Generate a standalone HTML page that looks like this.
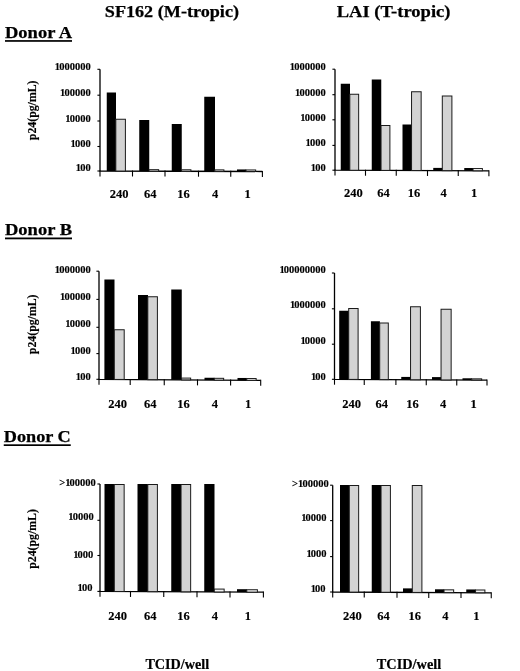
<!DOCTYPE html>
<html><head><meta charset="utf-8"><title>Figure</title>
<style>
html,body{margin:0;padding:0;background:#fff;}
svg{display:block;}
text{font-family:"Liberation Serif","Times New Roman",serif;font-weight:bold;fill:#000;}
.t{font-size:17.6px;stroke:#000;stroke-width:0.25px;}
.d{font-size:17.2px;stroke:#000;stroke-width:0.25px;}
.yl{font-size:10.5px;stroke:#000;stroke-width:0.15px;}
.xl{font-size:12.5px;stroke:#000;stroke-width:0.15px;}
.yt{font-size:11.8px;stroke:#000;stroke-width:0.15px;}
.tc{font-size:14.3px;stroke:#000;stroke-width:0.2px;}
</style></head>
<body>
<svg width="520" height="671" viewBox="0 0 520 671">
<rect width="520" height="671" fill="#fff"/>
<path d="M100 69.3V171L262.4 171.5" fill="none" stroke="#000" stroke-width="1.3" stroke-linejoin="miter"/>
<path d="M97.4 69.3H100" stroke="#000" stroke-width="1.1"/>
<path d="M97.4 95.2H100" stroke="#000" stroke-width="1.1"/>
<path d="M97.4 121H100" stroke="#000" stroke-width="1.1"/>
<path d="M97.4 146.5H100" stroke="#000" stroke-width="1.1"/>
<path d="M97.4 171H100" stroke="#000" stroke-width="1.1"/>
<path d="M100.00 170.40V176.40" stroke="#000" stroke-width="1.1"/>
<path d="M132.50 170.50V176.50" stroke="#000" stroke-width="1.1"/>
<path d="M165.00 170.60V176.60" stroke="#000" stroke-width="1.1"/>
<path d="M198.50 170.70V176.70" stroke="#000" stroke-width="1.1"/>
<path d="M230.75 170.80V176.80" stroke="#000" stroke-width="1.1"/>
<path d="M262.40 170.90V176.90" stroke="#000" stroke-width="1.1"/>
<rect x="106.75" y="92.50" width="9.25" height="78.54" fill="#000"/>
<rect x="115.80" y="119.25" width="9.60" height="51.81" fill="#d3d3d3" stroke="#1a1a1a" stroke-width="1"/>
<rect x="139.25" y="120.00" width="10.00" height="51.14" fill="#000"/>
<rect x="149.05" y="169.67" width="9.60" height="1.50" fill="#f2f2f2" stroke="#1a1a1a" stroke-width="1"/>
<rect x="171.75" y="124.00" width="10.00" height="47.24" fill="#000"/>
<rect x="181.55" y="169.77" width="9.35" height="1.50" fill="#f2f2f2" stroke="#1a1a1a" stroke-width="1"/>
<rect x="204.25" y="96.75" width="10.75" height="74.59" fill="#000"/>
<rect x="214.80" y="169.87" width="9.10" height="1.50" fill="#f2f2f2" stroke="#1a1a1a" stroke-width="1"/>
<rect x="237" y="169.44" width="9.25" height="2.00" fill="#000"/>
<rect x="246.05" y="169.96" width="9.60" height="1.50" fill="#f2f2f2" stroke="#1a1a1a" stroke-width="1"/>
<text x="90.7" y="70" text-anchor="end" class="yl">1<tspan dx="-0.9">000000</tspan></text>
<text x="90.7" y="95.6" text-anchor="end" class="yl">1<tspan dx="-0.9">00000</tspan></text>
<text x="90.7" y="121.5" text-anchor="end" class="yl">1<tspan dx="-0.9">0000</tspan></text>
<text x="90.7" y="146.8" text-anchor="end" class="yl">1<tspan dx="-0.9">000</tspan></text>
<text x="90.7" y="171.4" text-anchor="end" class="yl">1<tspan dx="-0.9">00</tspan></text>
<text x="119" y="198" text-anchor="middle" class="xl">240</text>
<text x="150.2" y="198" text-anchor="middle" class="xl">64</text>
<text x="183.5" y="198" text-anchor="middle" class="xl">16</text>
<text x="215" y="198" text-anchor="middle" class="xl">4</text>
<text x="247.5" y="198" text-anchor="middle" class="xl">1</text>
<path d="M335 69.2V170.2L488.9 170.8" fill="none" stroke="#000" stroke-width="1.3" stroke-linejoin="miter"/>
<path d="M332.4 69.2H335" stroke="#000" stroke-width="1.1"/>
<path d="M332.4 94.7H335" stroke="#000" stroke-width="1.1"/>
<path d="M332.4 119.8H335" stroke="#000" stroke-width="1.1"/>
<path d="M332.4 145.4H335" stroke="#000" stroke-width="1.1"/>
<path d="M332.4 170.2H335" stroke="#000" stroke-width="1.1"/>
<path d="M335.00 169.60V175.60" stroke="#000" stroke-width="1.1"/>
<path d="M365.50 169.72V175.72" stroke="#000" stroke-width="1.1"/>
<path d="M396.25 169.84V175.84" stroke="#000" stroke-width="1.1"/>
<path d="M427.50 169.96V175.96" stroke="#000" stroke-width="1.1"/>
<path d="M458.25 170.08V176.08" stroke="#000" stroke-width="1.1"/>
<path d="M488.90 170.20V176.20" stroke="#000" stroke-width="1.1"/>
<rect x="340.75" y="83.75" width="9.25" height="86.49" fill="#000"/>
<rect x="349.80" y="94.25" width="8.85" height="76.03" fill="#d3d3d3" stroke="#1a1a1a" stroke-width="1"/>
<rect x="371.75" y="79.50" width="9.50" height="90.86" fill="#000"/>
<rect x="381.05" y="125.50" width="8.85" height="44.90" fill="#d3d3d3" stroke="#1a1a1a" stroke-width="1"/>
<rect x="402.5" y="124.50" width="9.25" height="45.98" fill="#000"/>
<rect x="411.55" y="91.75" width="9.60" height="78.77" fill="#d3d3d3" stroke="#1a1a1a" stroke-width="1"/>
<rect x="433.25" y="167.90" width="9.25" height="2.70" fill="#000"/>
<rect x="442.30" y="96.00" width="9.60" height="74.64" fill="#d3d3d3" stroke="#1a1a1a" stroke-width="1"/>
<rect x="464.25" y="168.02" width="9.00" height="2.70" fill="#000"/>
<rect x="473.05" y="168.56" width="9.35" height="2.20" fill="#fff" stroke="#1a1a1a" stroke-width="1"/>
<text x="325.7" y="70.3" text-anchor="end" class="yl">1<tspan dx="-0.9">000000</tspan></text>
<text x="325.7" y="95.6" text-anchor="end" class="yl">1<tspan dx="-0.9">00000</tspan></text>
<text x="325.7" y="120.6" text-anchor="end" class="yl">1<tspan dx="-0.9">0000</tspan></text>
<text x="325.7" y="145.7" text-anchor="end" class="yl">1<tspan dx="-0.9">000</tspan></text>
<text x="325.7" y="170.5" text-anchor="end" class="yl">1<tspan dx="-0.9">00</tspan></text>
<text x="353.4" y="196.6" text-anchor="middle" class="xl">240</text>
<text x="383.4" y="196.6" text-anchor="middle" class="xl">64</text>
<text x="414.1" y="196.6" text-anchor="middle" class="xl">16</text>
<text x="443.7" y="196.6" text-anchor="middle" class="xl">4</text>
<text x="474" y="196.6" text-anchor="middle" class="xl">1</text>
<path d="M99 271.2V379.3L260.7 380.4" fill="none" stroke="#000" stroke-width="1.3" stroke-linejoin="miter"/>
<path d="M96.4 271.2H99" stroke="#000" stroke-width="1.1"/>
<path d="M96.4 299.4H99" stroke="#000" stroke-width="1.1"/>
<path d="M96.4 327.3H99" stroke="#000" stroke-width="1.1"/>
<path d="M96.4 353.6H99" stroke="#000" stroke-width="1.1"/>
<path d="M96.4 379.3H99" stroke="#000" stroke-width="1.1"/>
<path d="M99.00 378.70V384.70" stroke="#000" stroke-width="1.1"/>
<path d="M130.20 378.91V384.91" stroke="#000" stroke-width="1.1"/>
<path d="M164.25 379.14V385.14" stroke="#000" stroke-width="1.1"/>
<path d="M197.50 379.37V385.37" stroke="#000" stroke-width="1.1"/>
<path d="M230.60 379.60V385.60" stroke="#000" stroke-width="1.1"/>
<path d="M260.70 379.80V385.80" stroke="#000" stroke-width="1.1"/>
<rect x="104.4" y="279.50" width="10.10" height="99.87" fill="#000"/>
<rect x="114.30" y="329.75" width="9.90" height="49.69" fill="#d3d3d3" stroke="#1a1a1a" stroke-width="1"/>
<rect x="138" y="295.00" width="10.00" height="84.60" fill="#000"/>
<rect x="147.80" y="296.75" width="9.60" height="82.92" fill="#d3d3d3" stroke="#1a1a1a" stroke-width="1"/>
<rect x="171.25" y="289.50" width="10.50" height="90.33" fill="#000"/>
<rect x="181.55" y="378.09" width="9.10" height="1.80" fill="#f2f2f2" stroke="#1a1a1a" stroke-width="1"/>
<rect x="204.5" y="377.75" width="10.00" height="2.30" fill="#000"/>
<rect x="214.30" y="378.32" width="9.35" height="1.80" fill="#f2f2f2" stroke="#1a1a1a" stroke-width="1"/>
<rect x="237.5" y="377.97" width="9.50" height="2.30" fill="#000"/>
<rect x="246.80" y="378.54" width="9.35" height="1.80" fill="#f2f2f2" stroke="#1a1a1a" stroke-width="1"/>
<text x="90.7" y="272.7" text-anchor="end" class="yl">1<tspan dx="-0.9">000000</tspan></text>
<text x="90.7" y="300" text-anchor="end" class="yl">1<tspan dx="-0.9">00000</tspan></text>
<text x="90.7" y="327" text-anchor="end" class="yl">1<tspan dx="-0.9">0000</tspan></text>
<text x="90.7" y="354" text-anchor="end" class="yl">1<tspan dx="-0.9">000</tspan></text>
<text x="90.7" y="379.7" text-anchor="end" class="yl">1<tspan dx="-0.9">00</tspan></text>
<text x="117.5" y="407.6" text-anchor="middle" class="xl">240</text>
<text x="150.2" y="407.6" text-anchor="middle" class="xl">64</text>
<text x="183.5" y="407.6" text-anchor="middle" class="xl">16</text>
<text x="214.9" y="407.6" text-anchor="middle" class="xl">4</text>
<text x="248.2" y="407.6" text-anchor="middle" class="xl">1</text>
<path d="M334.5 273V379.3L487 380.2" fill="none" stroke="#000" stroke-width="1.3" stroke-linejoin="miter"/>
<path d="M331.9 273H334.5" stroke="#000" stroke-width="1.1"/>
<path d="M331.9 308.8H334.5" stroke="#000" stroke-width="1.1"/>
<path d="M331.9 344.2H334.5" stroke="#000" stroke-width="1.1"/>
<path d="M331.9 379.3H334.5" stroke="#000" stroke-width="1.1"/>
<path d="M334.50 378.70V384.70" stroke="#000" stroke-width="1.1"/>
<path d="M364.25 378.88V384.88" stroke="#000" stroke-width="1.1"/>
<path d="M395.90 379.06V385.06" stroke="#000" stroke-width="1.1"/>
<path d="M426.25 379.24V385.24" stroke="#000" stroke-width="1.1"/>
<path d="M456.75 379.42V385.42" stroke="#000" stroke-width="1.1"/>
<path d="M487.00 379.60V385.60" stroke="#000" stroke-width="1.1"/>
<rect x="339.2" y="310.75" width="9.70" height="68.61" fill="#000"/>
<rect x="348.70" y="308.50" width="9.40" height="70.91" fill="#d3d3d3" stroke="#1a1a1a" stroke-width="1"/>
<rect x="370.9" y="321.25" width="9.00" height="58.29" fill="#000"/>
<rect x="379.70" y="323.00" width="8.60" height="56.59" fill="#d3d3d3" stroke="#1a1a1a" stroke-width="1"/>
<rect x="401.25" y="376.92" width="9.50" height="2.80" fill="#000"/>
<rect x="410.55" y="306.75" width="9.85" height="73.03" fill="#d3d3d3" stroke="#1a1a1a" stroke-width="1"/>
<rect x="432" y="377.10" width="9.25" height="2.80" fill="#000"/>
<rect x="441.05" y="309.25" width="10.10" height="70.71" fill="#d3d3d3" stroke="#1a1a1a" stroke-width="1"/>
<rect x="462.5" y="378.28" width="9.50" height="1.80" fill="#000"/>
<rect x="471.80" y="378.84" width="9.85" height="1.30" fill="#fff" stroke="#1a1a1a" stroke-width="1"/>
<text x="325.8" y="272.7" text-anchor="end" class="yl">1<tspan dx="-0.9">00000000</tspan></text>
<text x="325.8" y="308.4" text-anchor="end" class="yl">1<tspan dx="-0.9">000000</tspan></text>
<text x="325.8" y="344.2" text-anchor="end" class="yl">1<tspan dx="-0.9">0000</tspan></text>
<text x="325.8" y="379.7" text-anchor="end" class="yl">1<tspan dx="-0.9">00</tspan></text>
<text x="351.7" y="407.6" text-anchor="middle" class="xl">240</text>
<text x="381.8" y="407.6" text-anchor="middle" class="xl">64</text>
<text x="412.5" y="407.6" text-anchor="middle" class="xl">16</text>
<text x="443" y="407.6" text-anchor="middle" class="xl">4</text>
<text x="473.5" y="407.6" text-anchor="middle" class="xl">1</text>
<path d="M100 484V591.4L263.5 592.2" fill="none" stroke="#000" stroke-width="1.3" stroke-linejoin="miter"/>
<path d="M97.4 484H100" stroke="#000" stroke-width="1.1"/>
<path d="M97.4 520.3H100" stroke="#000" stroke-width="1.1"/>
<path d="M97.4 555.5H100" stroke="#000" stroke-width="1.1"/>
<path d="M97.4 591.4H100" stroke="#000" stroke-width="1.1"/>
<path d="M100.00 590.80V596.80" stroke="#000" stroke-width="1.1"/>
<path d="M130.50 590.95V596.95" stroke="#000" stroke-width="1.1"/>
<path d="M163.75 591.11V597.11" stroke="#000" stroke-width="1.1"/>
<path d="M197.00 591.27V597.27" stroke="#000" stroke-width="1.1"/>
<path d="M230.00 591.44V597.44" stroke="#000" stroke-width="1.1"/>
<path d="M263.40 591.60V597.60" stroke="#000" stroke-width="1.1"/>
<rect x="104.5" y="484.00" width="10.00" height="107.45" fill="#000"/>
<rect x="114.30" y="484.50" width="9.85" height="106.99" fill="#d3d3d3" stroke="#1a1a1a" stroke-width="1"/>
<rect x="137.5" y="484.00" width="10.50" height="107.61" fill="#000"/>
<rect x="147.80" y="484.50" width="9.60" height="107.16" fill="#d3d3d3" stroke="#1a1a1a" stroke-width="1"/>
<rect x="171.25" y="484.00" width="10.00" height="107.77" fill="#000"/>
<rect x="181.05" y="484.50" width="9.60" height="107.32" fill="#d3d3d3" stroke="#1a1a1a" stroke-width="1"/>
<rect x="204.25" y="484.00" width="10.25" height="107.94" fill="#000"/>
<rect x="214.30" y="589.08" width="9.85" height="2.90" fill="#f2f2f2" stroke="#1a1a1a" stroke-width="1"/>
<rect x="237" y="589.19" width="10.00" height="2.90" fill="#000"/>
<rect x="246.80" y="589.74" width="10.60" height="2.40" fill="#f2f2f2" stroke="#1a1a1a" stroke-width="1"/>
<text x="95.8" y="485.8" text-anchor="end" class="yl">&gt;1<tspan dx="-0.9">00000</tspan></text>
<text x="93.7" y="520.3" text-anchor="end" class="yl">1<tspan dx="-0.9">0000</tspan></text>
<text x="93.3" y="558.2" text-anchor="end" class="yl">1<tspan dx="-0.9">000</tspan></text>
<text x="92.4" y="590.8" text-anchor="end" class="yl">1<tspan dx="-0.9">00</tspan></text>
<text x="117.5" y="619.6" text-anchor="middle" class="xl">240</text>
<text x="150.2" y="619.6" text-anchor="middle" class="xl">64</text>
<text x="183.5" y="619.6" text-anchor="middle" class="xl">16</text>
<text x="214.9" y="619.6" text-anchor="middle" class="xl">4</text>
<text x="247.9" y="619.6" text-anchor="middle" class="xl">1</text>
<path d="M332.7 485.2V592L491.25 592.8" fill="none" stroke="#000" stroke-width="1.3" stroke-linejoin="miter"/>
<path d="M330.09999999999997 485.2H332.7" stroke="#000" stroke-width="1.1"/>
<path d="M330.09999999999997 520.6H332.7" stroke="#000" stroke-width="1.1"/>
<path d="M330.09999999999997 556.6H332.7" stroke="#000" stroke-width="1.1"/>
<path d="M330.09999999999997 592H332.7" stroke="#000" stroke-width="1.1"/>
<path d="M332.70 591.40V597.40" stroke="#000" stroke-width="1.1"/>
<path d="M364.25 591.56V597.56" stroke="#000" stroke-width="1.1"/>
<path d="M397.00 591.72V597.72" stroke="#000" stroke-width="1.1"/>
<path d="M428.75 591.88V597.88" stroke="#000" stroke-width="1.1"/>
<path d="M461.00 592.05V598.05" stroke="#000" stroke-width="1.1"/>
<path d="M491.25 592.20V598.20" stroke="#000" stroke-width="1.1"/>
<rect x="340" y="485.00" width="9.50" height="107.06" fill="#000"/>
<rect x="349.30" y="485.50" width="9.35" height="106.61" fill="#d3d3d3" stroke="#1a1a1a" stroke-width="1"/>
<rect x="371.75" y="485.00" width="9.50" height="107.22" fill="#000"/>
<rect x="381.05" y="485.50" width="9.35" height="106.77" fill="#d3d3d3" stroke="#1a1a1a" stroke-width="1"/>
<rect x="403" y="588.38" width="9.50" height="4.00" fill="#000"/>
<rect x="412.30" y="485.50" width="9.60" height="106.93" fill="#d3d3d3" stroke="#1a1a1a" stroke-width="1"/>
<rect x="435" y="589.29" width="9.25" height="3.25" fill="#000"/>
<rect x="444.05" y="589.84" width="9.60" height="2.75" fill="#f2f2f2" stroke="#1a1a1a" stroke-width="1"/>
<rect x="466.25" y="589.45" width="9.50" height="3.25" fill="#000"/>
<rect x="475.55" y="590.00" width="9.35" height="2.75" fill="#f2f2f2" stroke="#1a1a1a" stroke-width="1"/>
<text x="328.7" y="487.1" text-anchor="end" class="yl">&gt;1<tspan dx="-0.9">00000</tspan></text>
<text x="326.5" y="521" text-anchor="end" class="yl">1<tspan dx="-0.9">0000</tspan></text>
<text x="326.5" y="556.9" text-anchor="end" class="yl">1<tspan dx="-0.9">000</tspan></text>
<text x="325.5" y="592" text-anchor="end" class="yl">1<tspan dx="-0.9">00</tspan></text>
<text x="352.4" y="619.6" text-anchor="middle" class="xl">240</text>
<text x="383.4" y="619.6" text-anchor="middle" class="xl">64</text>
<text x="414.8" y="619.6" text-anchor="middle" class="xl">16</text>
<text x="445.3" y="619.6" text-anchor="middle" class="xl">4</text>
<text x="476.4" y="619.6" text-anchor="middle" class="xl">1</text>

<text x="104.8" y="16.9" class="t" textLength="134.2" lengthAdjust="spacingAndGlyphs">SF162 (M-tropic)</text>
<text x="336.7" y="16.9" class="t" textLength="113.8" lengthAdjust="spacingAndGlyphs">LAI (T-tropic)</text>
<text x="5" y="38.3" class="d" textLength="67" lengthAdjust="spacingAndGlyphs">Donor A</text>
<rect x="5" y="40.1" width="67" height="1.7" fill="#000"/>
<text x="5" y="235" class="d" textLength="67" lengthAdjust="spacingAndGlyphs">Donor B</text>
<rect x="5" y="237.5" width="67" height="1.8" fill="#000"/>
<text x="3.75" y="442" class="d" textLength="67" lengthAdjust="spacingAndGlyphs">Donor C</text>
<rect x="3.75" y="444.3" width="67" height="1.7" fill="#000"/>
<text transform="translate(35.7 110.3) rotate(-90)" text-anchor="middle" class="yt">p24(pg/mL)</text>
<text transform="translate(35.5 324.3) rotate(-90)" text-anchor="middle" class="yt">p24(pg/mL)</text>
<text transform="translate(35.5 539) rotate(-90)" text-anchor="middle" class="yt">p24(pg/mL)</text>
<text x="145.4" y="668.5" class="tc" textLength="63.8" lengthAdjust="spacingAndGlyphs">TCID/well</text>
<text x="376.8" y="668.5" class="tc" textLength="64.4" lengthAdjust="spacingAndGlyphs">TCID/well</text>

</svg>
</body></html>
